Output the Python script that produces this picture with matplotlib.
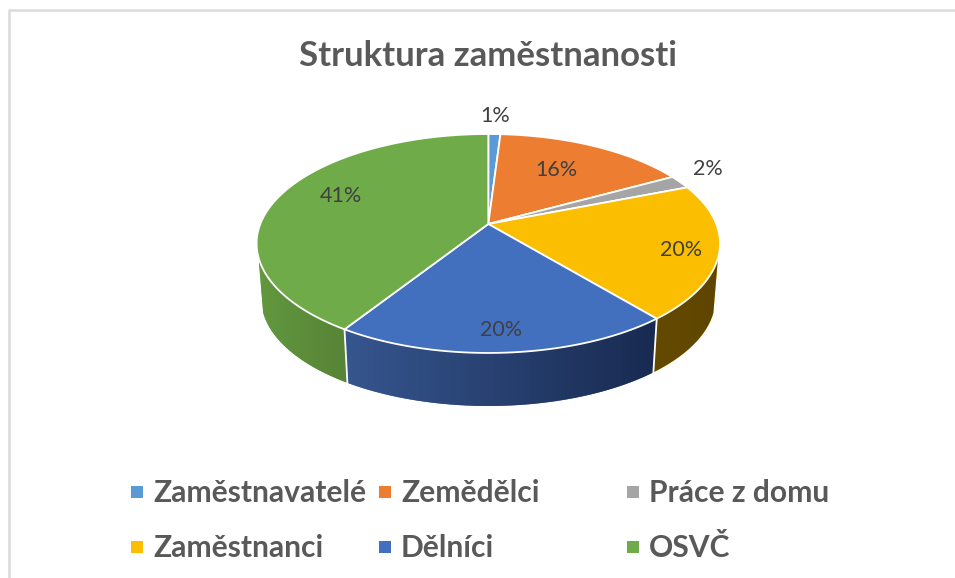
import numpy as np
import matplotlib
matplotlib.use("Agg")
import matplotlib.pyplot as plt
from matplotlib.patches import Polygon, Rectangle

plt.rcParams['font.family'] = ['Lato', 'DejaVu Sans']

title = "Struktura zaměstnanosti"
categories = ["Zaměstnavatelé", "Zemědělci", "Práce z domu", "Zaměstnanci", "Dělníci", "OSVČ"]
values = [1, 16, 2, 20, 20, 41]
labels = ["1%", "16%", "2%", "20%", "20%", "41%"]
colors = ["#5B9BD5", "#ED7D31", "#A5A5A5", "#FCBE00", "#4270BF", "#6FAB48"]
wall_left = ["#35618A", "#8F4B1E", "#636363", "#644A00", "#36568F", "#62983F"]
wall_right = ["#2A4D6E", "#723C18", "#4F4F4F", "#5F4600", "#182A50", "#578336"]
label_xy = [(495, 116), (556, 170), (708, 169), (681, 250), (501, 330), (341, 196)]
text_color = "#404040"
legend_color = "#595959"

CX, CY = 488.3, 224.0
BX, BY, K = 228.0, 106.0, 0.178
WALL_SHIFT, WALL_SCALE = 55.6, 0.98
WALL_LIMIT = -0.3


def project(theta, scale=1.0, shift=0.0):
    X, Y = np.sin(theta), np.cos(theta)
    den = 1 + K * Y
    return CX + scale * BX * X / den, CY + shift - scale * BY * Y / den


fig = plt.figure(figsize=(9.55, 5.78), dpi=100)
ax = fig.add_axes([0, 0, 1, 1])
ax.set_xlim(0, 955)
ax.set_ylim(578, 0)
ax.axis("off")

# chart frame
ax.plot([8.7, 8.7, 955], [578, 10, 10], color="#DADADA", lw=1.8, zorder=1)

frac = np.cumsum([0] + values) / sum(values) * 2 * np.pi

# side walls (only the part that faces the viewer)
for i in range(len(values)):
    t = np.linspace(frac[i], frac[i + 1], 300)
    t = t[np.cos(t) <= WALL_LIMIT]
    if t.size < 2:
        continue
    xt, yt = project(t)
    xb, yb = project(t, WALL_SCALE, WALL_SHIFT)
    verts = np.r_[np.c_[xt, yt], np.c_[xb, yb][::-1]]
    poly = Polygon(verts, closed=True, fc=colors[i], ec="none", zorder=2)
    ax.add_patch(poly)
    x0, x1 = verts[:, 0].min(), verts[:, 0].max()
    c0 = np.array(matplotlib.colors.to_rgb(wall_left[i]))
    c1 = np.array(matplotlib.colors.to_rgb(wall_right[i]))
    g = np.linspace(0, 1, 256)[None, :, None]
    img = c0[None, None, :] * (1 - g) + c1[None, None, :] * g
    im = ax.imshow(img, extent=(x0, x1, verts[:, 1].max(), verts[:, 1].min()),
                   aspect="auto", zorder=3, interpolation="bilinear")
    im.set_clip_path(poly)

# boundaries on the walls
for a in frac[:-1]:
    if np.cos(a) < WALL_LIMIT:
        xt, yt = project(a)
        xb, yb = project(a, WALL_SCALE, WALL_SHIFT)
        ax.plot([xt, xb], [yt, yb], color="white", lw=1.3, zorder=4)

# top face
for i in range(len(values)):
    t = np.linspace(frac[i], frac[i + 1], 200)
    xt, yt = project(t)
    verts = np.r_[[[CX, CY]], np.c_[xt, yt]]
    ax.add_patch(Polygon(verts, closed=True, fc=colors[i], ec="white", lw=1.3,
                         joinstyle="round", zorder=5))

for (x, y), s in zip(label_xy, labels):
    ax.text(x, y, s, fontsize=15.5, color=text_color, ha="center", va="center", zorder=6)

ax.text(488, 56, title, fontsize=25, fontweight="bold", color=legend_color,
        ha="center", va="center", zorder=6)

col_x = [131, 379, 627]
row_y = [492, 547]
for i, (name, c) in enumerate(zip(categories, colors)):
    x, y = col_x[i % 3], row_y[i // 3]
    ax.add_patch(Rectangle((x, y - 6), 12, 12, fc=c, ec="none", zorder=6))
    ax.text(x + 22, y + 1, name, fontsize=21.6, fontweight="bold", color=legend_color,
            ha="left", va="center", zorder=6)

ax.set_xlim(0, 955)
ax.set_ylim(578, 0)
fig.savefig("out.png", dpi=100, facecolor="white")
